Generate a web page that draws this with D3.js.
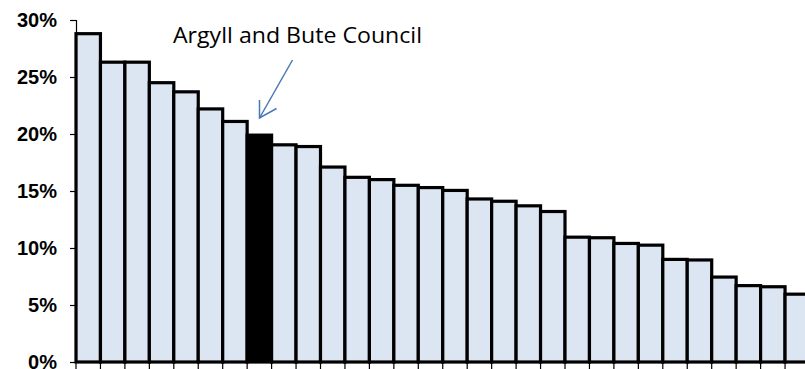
<!DOCTYPE html>
<html>
<head>
<meta charset="utf-8">
<script src="https://cdn.jsdelivr.net/npm/d3@7"></script>
<style>
  html, body { margin: 0; padding: 0; background: #fff; }
  svg { display: block; }
</style>
</head>
<body>
<svg id="chart" width="805" height="369"></svg>
<script>
// ---- Data ----
const categories = ["C1","C2","C3","C4","C5","C6","C7","Argyll and Bute","C9","C10",
  "C11","C12","C13","C14","C15","C16","C17","C18","C19","C20",
  "C21","C22","C23","C24","C25","C26","C27","C28","C29","C30"];
const values = [28.8, 26.3, 26.3, 24.5, 23.7, 22.2, 21.1, 19.9, 19.05, 18.9,
  17.1, 16.2, 16.0, 15.5, 15.3, 15.05, 14.3, 14.1, 13.7, 13.2,
  10.95, 10.9, 10.4, 10.25, 9.0, 8.95, 7.45, 6.7, 6.6, 5.95];
const highlight = "Argyll and Bute";
const yTicks = [0, 5, 10, 15, 20, 25, 30];
const annotationText = "Argyll and Bute Council";

// ---- Layout ----
const svg = d3.select("#chart");
const x0 = 76, step = 24.45;
const x = d3.scaleBand().domain(categories)
  .range([x0, x0 + step * categories.length]).padding(0);
const y = d3.scaleLinear().domain([0, 30]).range([362, 20]);

// bars
svg.append("g").selectAll("rect").data(values).join("rect")
  .attr("x", (d, i) => x(categories[i]))
  .attr("y", d => y(d))
  .attr("width", x.bandwidth())
  .attr("height", d => y(0) - y(d))
  .attr("fill", (d, i) => categories[i] === highlight ? "#000" : "#dce6f2")
  .attr("stroke", "#000")
  .attr("stroke-width", 3.2);

// y axis
const yAxis = svg.append("g").attr("transform", `translate(${x0},0)`)
  .call(d3.axisLeft(y).tickValues(yTicks).tickFormat(d => d + "%").tickSizeOuter(0).tickSize(6).tickPadding(13));
yAxis.select(".domain").attr("stroke", "#000").attr("stroke-width", 1.2);
yAxis.selectAll(".tick line").attr("stroke", "#000").attr("stroke-width", 1.2);
yAxis.selectAll(".tick text")
  .attr("fill", "#000")
  .style("font-family", "'Liberation Sans', Arial, sans-serif")
  .style("font-weight", "bold")
  .style("font-size", "20px");

// x axis (ticks between categories)
const boundaries = categories.map(c => x(c)).concat([x(categories[categories.length-1]) + x.bandwidth()]);
const xg = svg.append("g");
xg.append("line").attr("x1", x0).attr("x2", 805).attr("y1", y(0)).attr("y2", y(0))
  .attr("stroke", "#000").attr("stroke-width", 1.5);
xg.selectAll("line.t").data(boundaries).join("line").attr("class", "t")
  .attr("x1", d => d).attr("x2", d => d)
  .attr("y1", y(0)).attr("y2", y(0) + 7)
  .attr("stroke", "#000").attr("stroke-width", 1.2);

// annotation
svg.append("text")
  .attr("x", 173).attr("y", 43)
  .attr("textLength", 249).attr("lengthAdjust", "spacingAndGlyphs")
  .style("font-family", "'Open Sans', sans-serif")
  .style("font-size", "21px")
  .attr("fill", "#000")
  .text(annotationText);

const ac = "#4a77b4";
const tipX = 259.5, tipY = 118;
svg.append("line").attr("x1", 292.5).attr("y1", 60).attr("x2", tipX).attr("y2", tipY)
  .attr("stroke", ac).attr("stroke-width", 1.5);
svg.append("polyline")
  .attr("points", `${tipX},100 ${tipX},${tipY} 276.5,108.5`)
  .attr("fill", "none").attr("stroke", ac).attr("stroke-width", 1.5)
  .attr("stroke-linejoin", "miter");
</script>
</body>
</html>
